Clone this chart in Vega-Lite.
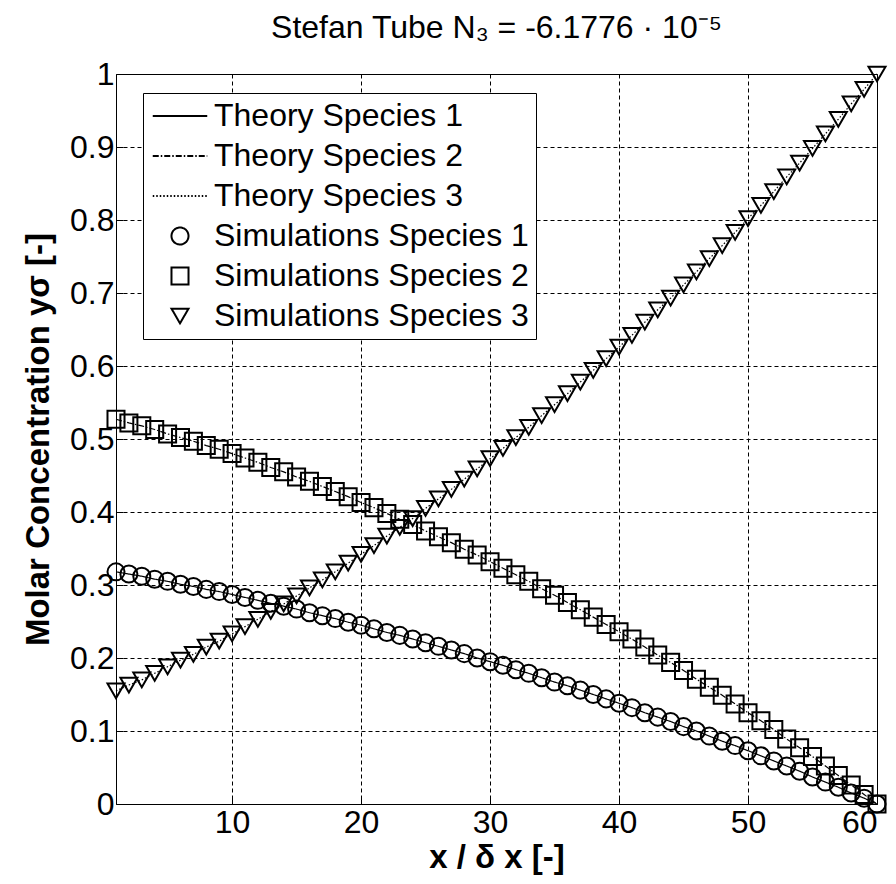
{
  "$schema": "https://vega.github.io/schema/vega-lite/v6.json",
  "width": 761,
  "height": 730,
  "autosize": {"type": "none"},
  "padding": {"left": 116, "top": 74, "right": 19, "bottom": 80},
  "background": "white",
  "title": {"text": "Stefan Tube N₃ = -6.1776 · 10⁻⁵", "font": "Liberation Sans", "fontSize": 32, "fontWeight": "normal", "color": "black", "anchor": "middle", "offset": 13},
  "config": {
    "view": {"stroke": "black", "strokeWidth": 1},
    "axis": {
      "labelFont": "Liberation Sans", "labelFontSize": 32, "labelColor": "black",
      "titleFont": "Liberation Sans", "titleFontSize": 33, "titleFontWeight": "bold", "titleColor": "black",
      "domain": false, "grid": true, "gridColor": "black", "gridDash": [4, 3], "gridOpacity": 1, "gridWidth": 1,
      "ticks": true, "tickColor": "black", "tickSize": -7, "tickWidth": 1
    }
  },
  "data": {"values": [
    {"x":1,"Theory Species 1":0.318,"Theory Species 2":0.527,"Theory Species 3":0.155,"Simulations Species 1":0.318,"Simulations Species 2":0.527,"Simulations Species 3":0.155},
    {"x":2,"Theory Species 1":0.315,"Theory Species 2":0.522,"Theory Species 3":0.163,"Simulations Species 1":0.315,"Simulations Species 2":0.522,"Simulations Species 3":0.163},
    {"x":3,"Theory Species 1":0.312,"Theory Species 2":0.518,"Theory Species 3":0.170,"Simulations Species 1":0.312,"Simulations Species 2":0.518,"Simulations Species 3":0.170},
    {"x":4,"Theory Species 1":0.308,"Theory Species 2":0.513,"Theory Species 3":0.179,"Simulations Species 1":0.308,"Simulations Species 2":0.513,"Simulations Species 3":0.179},
    {"x":5,"Theory Species 1":0.305,"Theory Species 2":0.507,"Theory Species 3":0.188,"Simulations Species 1":0.305,"Simulations Species 2":0.507,"Simulations Species 3":0.188},
    {"x":6,"Theory Species 1":0.301,"Theory Species 2":0.502,"Theory Species 3":0.197,"Simulations Species 1":0.301,"Simulations Species 2":0.502,"Simulations Species 3":0.197},
    {"x":7,"Theory Species 1":0.298,"Theory Species 2":0.497,"Theory Species 3":0.205,"Simulations Species 1":0.298,"Simulations Species 2":0.497,"Simulations Species 3":0.205},
    {"x":8,"Theory Species 1":0.294,"Theory Species 2":0.491,"Theory Species 3":0.215,"Simulations Species 1":0.294,"Simulations Species 2":0.491,"Simulations Species 3":0.215},
    {"x":9,"Theory Species 1":0.291,"Theory Species 2":0.486,"Theory Species 3":0.223,"Simulations Species 1":0.291,"Simulations Species 2":0.486,"Simulations Species 3":0.223},
    {"x":10,"Theory Species 1":0.287,"Theory Species 2":0.480,"Theory Species 3":0.233,"Simulations Species 1":0.287,"Simulations Species 2":0.480,"Simulations Species 3":0.233},
    {"x":11,"Theory Species 1":0.283,"Theory Species 2":0.474,"Theory Species 3":0.243,"Simulations Species 1":0.283,"Simulations Species 2":0.474,"Simulations Species 3":0.243},
    {"x":12,"Theory Species 1":0.279,"Theory Species 2":0.468,"Theory Species 3":0.253,"Simulations Species 1":0.279,"Simulations Species 2":0.468,"Simulations Species 3":0.253},
    {"x":13,"Theory Species 1":0.275,"Theory Species 2":0.461,"Theory Species 3":0.264,"Simulations Species 1":0.275,"Simulations Species 2":0.461,"Simulations Species 3":0.264},
    {"x":14,"Theory Species 1":0.271,"Theory Species 2":0.455,"Theory Species 3":0.274,"Simulations Species 1":0.271,"Simulations Species 2":0.455,"Simulations Species 3":0.274},
    {"x":15,"Theory Species 1":0.267,"Theory Species 2":0.448,"Theory Species 3":0.285,"Simulations Species 1":0.267,"Simulations Species 2":0.448,"Simulations Species 3":0.285},
    {"x":16,"Theory Species 1":0.262,"Theory Species 2":0.442,"Theory Species 3":0.296,"Simulations Species 1":0.262,"Simulations Species 2":0.442,"Simulations Species 3":0.296},
    {"x":17,"Theory Species 1":0.258,"Theory Species 2":0.435,"Theory Species 3":0.307,"Simulations Species 1":0.258,"Simulations Species 2":0.435,"Simulations Species 3":0.307},
    {"x":18,"Theory Species 1":0.254,"Theory Species 2":0.428,"Theory Species 3":0.318,"Simulations Species 1":0.254,"Simulations Species 2":0.428,"Simulations Species 3":0.318},
    {"x":19,"Theory Species 1":0.249,"Theory Species 2":0.421,"Theory Species 3":0.330,"Simulations Species 1":0.249,"Simulations Species 2":0.421,"Simulations Species 3":0.330},
    {"x":20,"Theory Species 1":0.245,"Theory Species 2":0.413,"Theory Species 3":0.342,"Simulations Species 1":0.245,"Simulations Species 2":0.413,"Simulations Species 3":0.342},
    {"x":21,"Theory Species 1":0.240,"Theory Species 2":0.406,"Theory Species 3":0.354,"Simulations Species 1":0.240,"Simulations Species 2":0.406,"Simulations Species 3":0.354},
    {"x":22,"Theory Species 1":0.235,"Theory Species 2":0.398,"Theory Species 3":0.367,"Simulations Species 1":0.235,"Simulations Species 2":0.398,"Simulations Species 3":0.367},
    {"x":23,"Theory Species 1":0.231,"Theory Species 2":0.390,"Theory Species 3":0.379,"Simulations Species 1":0.231,"Simulations Species 2":0.390,"Simulations Species 3":0.379},
    {"x":24,"Theory Species 1":0.226,"Theory Species 2":0.383,"Theory Species 3":0.391,"Simulations Species 1":0.226,"Simulations Species 2":0.383,"Simulations Species 3":0.391},
    {"x":25,"Theory Species 1":0.221,"Theory Species 2":0.374,"Theory Species 3":0.405,"Simulations Species 1":0.221,"Simulations Species 2":0.374,"Simulations Species 3":0.405},
    {"x":26,"Theory Species 1":0.216,"Theory Species 2":0.366,"Theory Species 3":0.418,"Simulations Species 1":0.216,"Simulations Species 2":0.366,"Simulations Species 3":0.418},
    {"x":27,"Theory Species 1":0.211,"Theory Species 2":0.358,"Theory Species 3":0.431,"Simulations Species 1":0.211,"Simulations Species 2":0.358,"Simulations Species 3":0.431},
    {"x":28,"Theory Species 1":0.206,"Theory Species 2":0.349,"Theory Species 3":0.445,"Simulations Species 1":0.206,"Simulations Species 2":0.349,"Simulations Species 3":0.445},
    {"x":29,"Theory Species 1":0.200,"Theory Species 2":0.341,"Theory Species 3":0.459,"Simulations Species 1":0.200,"Simulations Species 2":0.341,"Simulations Species 3":0.459},
    {"x":30,"Theory Species 1":0.195,"Theory Species 2":0.332,"Theory Species 3":0.473,"Simulations Species 1":0.195,"Simulations Species 2":0.332,"Simulations Species 3":0.473},
    {"x":31,"Theory Species 1":0.190,"Theory Species 2":0.323,"Theory Species 3":0.487,"Simulations Species 1":0.190,"Simulations Species 2":0.323,"Simulations Species 3":0.487},
    {"x":32,"Theory Species 1":0.184,"Theory Species 2":0.314,"Theory Species 3":0.502,"Simulations Species 1":0.184,"Simulations Species 2":0.314,"Simulations Species 3":0.502},
    {"x":33,"Theory Species 1":0.179,"Theory Species 2":0.305,"Theory Species 3":0.516,"Simulations Species 1":0.179,"Simulations Species 2":0.305,"Simulations Species 3":0.516},
    {"x":34,"Theory Species 1":0.173,"Theory Species 2":0.295,"Theory Species 3":0.532,"Simulations Species 1":0.173,"Simulations Species 2":0.295,"Simulations Species 3":0.532},
    {"x":35,"Theory Species 1":0.167,"Theory Species 2":0.286,"Theory Species 3":0.547,"Simulations Species 1":0.167,"Simulations Species 2":0.286,"Simulations Species 3":0.547},
    {"x":36,"Theory Species 1":0.162,"Theory Species 2":0.276,"Theory Species 3":0.562,"Simulations Species 1":0.162,"Simulations Species 2":0.276,"Simulations Species 3":0.562},
    {"x":37,"Theory Species 1":0.156,"Theory Species 2":0.266,"Theory Species 3":0.578,"Simulations Species 1":0.156,"Simulations Species 2":0.266,"Simulations Species 3":0.578},
    {"x":38,"Theory Species 1":0.150,"Theory Species 2":0.256,"Theory Species 3":0.594,"Simulations Species 1":0.150,"Simulations Species 2":0.256,"Simulations Species 3":0.594},
    {"x":39,"Theory Species 1":0.144,"Theory Species 2":0.246,"Theory Species 3":0.610,"Simulations Species 1":0.144,"Simulations Species 2":0.246,"Simulations Species 3":0.610},
    {"x":40,"Theory Species 1":0.138,"Theory Species 2":0.236,"Theory Species 3":0.626,"Simulations Species 1":0.138,"Simulations Species 2":0.236,"Simulations Species 3":0.626},
    {"x":41,"Theory Species 1":0.132,"Theory Species 2":0.226,"Theory Species 3":0.642,"Simulations Species 1":0.132,"Simulations Species 2":0.226,"Simulations Species 3":0.642},
    {"x":42,"Theory Species 1":0.125,"Theory Species 2":0.215,"Theory Species 3":0.660,"Simulations Species 1":0.125,"Simulations Species 2":0.215,"Simulations Species 3":0.660},
    {"x":43,"Theory Species 1":0.119,"Theory Species 2":0.204,"Theory Species 3":0.677,"Simulations Species 1":0.119,"Simulations Species 2":0.204,"Simulations Species 3":0.677},
    {"x":44,"Theory Species 1":0.113,"Theory Species 2":0.194,"Theory Species 3":0.693,"Simulations Species 1":0.113,"Simulations Species 2":0.194,"Simulations Species 3":0.693},
    {"x":45,"Theory Species 1":0.106,"Theory Species 2":0.183,"Theory Species 3":0.711,"Simulations Species 1":0.106,"Simulations Species 2":0.183,"Simulations Species 3":0.711},
    {"x":46,"Theory Species 1":0.100,"Theory Species 2":0.171,"Theory Species 3":0.729,"Simulations Species 1":0.100,"Simulations Species 2":0.171,"Simulations Species 3":0.729},
    {"x":47,"Theory Species 1":0.093,"Theory Species 2":0.160,"Theory Species 3":0.747,"Simulations Species 1":0.093,"Simulations Species 2":0.160,"Simulations Species 3":0.747},
    {"x":48,"Theory Species 1":0.086,"Theory Species 2":0.149,"Theory Species 3":0.765,"Simulations Species 1":0.086,"Simulations Species 2":0.149,"Simulations Species 3":0.765},
    {"x":49,"Theory Species 1":0.080,"Theory Species 2":0.137,"Theory Species 3":0.783,"Simulations Species 1":0.080,"Simulations Species 2":0.137,"Simulations Species 3":0.783},
    {"x":50,"Theory Species 1":0.073,"Theory Species 2":0.125,"Theory Species 3":0.802,"Simulations Species 1":0.073,"Simulations Species 2":0.125,"Simulations Species 3":0.802},
    {"x":51,"Theory Species 1":0.066,"Theory Species 2":0.114,"Theory Species 3":0.820,"Simulations Species 1":0.066,"Simulations Species 2":0.114,"Simulations Species 3":0.820},
    {"x":52,"Theory Species 1":0.059,"Theory Species 2":0.102,"Theory Species 3":0.839,"Simulations Species 1":0.059,"Simulations Species 2":0.102,"Simulations Species 3":0.839},
    {"x":53,"Theory Species 1":0.052,"Theory Species 2":0.089,"Theory Species 3":0.859,"Simulations Species 1":0.052,"Simulations Species 2":0.089,"Simulations Species 3":0.859},
    {"x":54,"Theory Species 1":0.045,"Theory Species 2":0.077,"Theory Species 3":0.878,"Simulations Species 1":0.045,"Simulations Species 2":0.077,"Simulations Species 3":0.878},
    {"x":55,"Theory Species 1":0.037,"Theory Species 2":0.065,"Theory Species 3":0.898,"Simulations Species 1":0.037,"Simulations Species 2":0.065,"Simulations Species 3":0.898},
    {"x":56,"Theory Species 1":0.030,"Theory Species 2":0.052,"Theory Species 3":0.918,"Simulations Species 1":0.030,"Simulations Species 2":0.052,"Simulations Species 3":0.918},
    {"x":57,"Theory Species 1":0.023,"Theory Species 2":0.039,"Theory Species 3":0.938,"Simulations Species 1":0.023,"Simulations Species 2":0.039,"Simulations Species 3":0.938},
    {"x":58,"Theory Species 1":0.015,"Theory Species 2":0.026,"Theory Species 3":0.959,"Simulations Species 1":0.015,"Simulations Species 2":0.026,"Simulations Species 3":0.959},
    {"x":59,"Theory Species 1":0.008,"Theory Species 2":0.013,"Theory Species 3":0.979,"Simulations Species 1":0.008,"Simulations Species 2":0.013,"Simulations Species 3":0.979},
    {"x":60,"Theory Species 1":0.000,"Theory Species 2":0.000,"Theory Species 3":1.000,"Simulations Species 1":0.000,"Simulations Species 2":0.000,"Simulations Species 3":1.000}
  ]},
  "encoding": {
    "x": {"field": "x", "type": "quantitative", "scale": {"domain": [1, 60], "nice": false, "zero": false},
          "axis": {"title": "x / δ x [-]", "values": [10, 20, 30, 40, 50, 60], "labelPadding": 10, "titlePadding": 3}},
    "y": {"field": "y", "type": "quantitative", "scale": {"domain": [0, 1], "nice": false},
          "axis": {"title": "Molar Concentration yσ [-]", "values": [0, 0.1, 0.2, 0.3, 0.4, 0.5, 0.6, 0.7, 0.8, 0.9, 1], "format": ".1~f", "labelPadding": 9, "titlePadding": 14}}
  },
  "layer": [
    {
      "transform": [{"fold": ["Theory Species 1", "Theory Species 2", "Theory Species 3"], "as": ["series", "y"]}],
      "mark": {"type": "line", "color": "black", "strokeWidth": 1.2},
      "encoding": {
        "strokeDash": {"field": "series", "type": "nominal",
          "scale": {"domain": ["Theory Species 1", "Theory Species 2", "Theory Species 3", "Simulations Species 1", "Simulations Species 2", "Simulations Species 3"],
                    "range": [[1, 0], [6, 2, 1.5, 2], [1.5, 2], [1, 0], [1, 0], [1, 0]]},
          "legend": {"title": null, "orient": "none", "legendX": 27, "legendY": 19, "direction": "vertical",
            "labelFont": "Liberation Sans", "labelFontSize": 32, "labelColor": "black", "labelLimit": 500, "labelOffset": 18,
            "symbolSize": 290, "symbolStrokeWidth": 2, "symbolStrokeColor": "black", "symbolFillColor": "transparent", "symbolOffset": 14,
            "fillColor": "white", "strokeColor": "black", "padding": 7, "rowPadding": 8}}
      }
    },
    {
      "transform": [{"fold": ["Simulations Species 1", "Simulations Species 2", "Simulations Species 3"], "as": ["series", "y"]}],
      "mark": {"type": "point", "filled": false, "color": "black", "strokeWidth": 2, "size": 290, "opacity": 1},
      "encoding": {
        "shape": {"field": "series", "type": "nominal",
          "scale": {"domain": ["Theory Species 1", "Theory Species 2", "Theory Species 3", "Simulations Species 1", "Simulations Species 2", "Simulations Species 3"],
                    "range": ["M-3.2,0H3.2", "M-3.2,0H3.2", "M-3.2,0H3.2", "circle", "square", "triangle-down"]},
          "legend": {"title": null, "orient": "none", "legendX": 27, "legendY": 19, "direction": "vertical",
            "labelFont": "Liberation Sans", "labelFontSize": 32, "labelColor": "black", "labelLimit": 500, "labelOffset": 18,
            "symbolSize": 290, "symbolStrokeWidth": 2, "symbolStrokeColor": "black", "symbolFillColor": "transparent", "symbolOffset": 14,
            "fillColor": "white", "strokeColor": "black", "padding": 7, "rowPadding": 8}}
      }
    }
  ]
}
